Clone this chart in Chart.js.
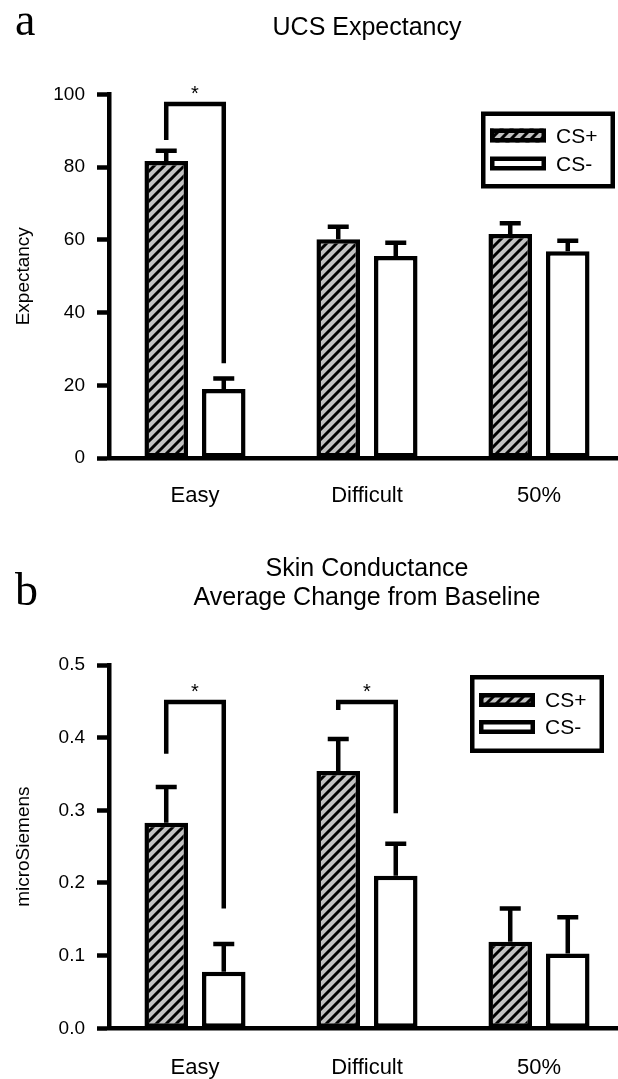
<!DOCTYPE html>
<html>
<head>
<meta charset="utf-8">
<title>UCS Expectancy / Skin Conductance</title>
<script src="https://cdn.jsdelivr.net/npm/chart.js@4.4.1/dist/chart.umd.min.js"></script>
<style>
  html, body { margin: 0; padding: 0; background: #fff; overflow: hidden; }
  #wrap { position: relative; width: 618px; height: 1079px; overflow: hidden; }
  canvas { position: absolute; left: 0; }
  #chartA { top: 0; }
  #chartB { top: 540px; }
</style>
</head>
<body>
<div id="wrap">
  <canvas id="chartA" width="630" height="540"></canvas>
  <canvas id="chartB" width="630" height="539"></canvas>
</div>
<script>
const categories = ["Easy", "Difficult", "50%"]
const seriesNames = ["CS+", "CS-"]

// panel a - UCS expectancy
const expCSPlus = [81.7, 60.2, 61.6]
const expCSPlusErr = [2.8, 3.4, 3.0]
const expCSMinus = [19.0, 55.6, 56.9]
const expCSMinusErr = [2.9, 3.6, 2.9]
const expTicks = [0, 20, 40, 60, 80, 100]
const expTickLabels = ["0", "20", "40", "60", "80", "100"]
// [category index, bracket top, left leg end, right leg end]
const expBrackets = [[0, 97.4, 87.5, 26.1]]

// panel b - skin conductance
const scrCSPlus = [0.283, 0.354, 0.119]
const scrCSPlusErr = [0.049, 0.044, 0.046]
const scrCSMinus = [0.078, 0.210, 0.103]
const scrCSMinusErr = [0.038, 0.044, 0.050]
const scrTicks = [0, 0.1, 0.2, 0.3, 0.4, 0.5]
const scrTickLabels = ["0.0", "0.1", "0.2", "0.3", "0.4", "0.5"]
const scrBrackets = [[0, 0.449, 0.378, 0.165], [1, 0.449, 0.438, 0.296]]

const SANS = "'Liberation Sans', Arial, sans-serif"
const SERIF = "'Liberation Serif', 'Times New Roman', serif"
const LINE = 4.5

Chart.defaults.font.family = SANS
Chart.defaults.color = "#000"

function hatchPattern() {
  const s = 10
  const tile = document.createElement("canvas")
  tile.width = s
  tile.height = s
  const t = tile.getContext("2d")
  t.fillStyle = "#c2c2c2"
  t.fillRect(0, 0, s, s)
  t.strokeStyle = "#000"
  t.lineWidth = 3
  t.beginPath()
  t.moveTo(-s, s); t.lineTo(s, -s)
  t.moveTo(-s, 2 * s); t.lineTo(2 * s, -s)
  t.moveTo(0, 2 * s); t.lineTo(2 * s, 0)
  t.stroke()
  return t.createPattern(tile, "repeat")
}
const hatch = hatchPattern()

// error bars, significance brackets, boxed legend, panel letter
const extras = {
  id: "extras",
  afterDatasetsDraw(chart, args, opts) {
    const ctx = chart.ctx
    const y = chart.scales.y
    ctx.save()
    ctx.strokeStyle = "#000"
    ctx.fillStyle = "#000"
    ctx.lineWidth = LINE
    ctx.lineCap = "butt"
    ctx.lineJoin = "miter"

    chart.data.datasets.forEach((ds, di) => {
      chart.getDatasetMeta(di).data.forEach((bar, i) => {
        const top = y.getPixelForValue(ds.data[i] + ds.errors[i])
        ctx.beginPath()
        ctx.moveTo(bar.x, bar.y)
        ctx.lineTo(bar.x, top)
        ctx.moveTo(bar.x - opts.capWidth / 2, top)
        ctx.lineTo(bar.x + opts.capWidth / 2, top)
        ctx.stroke()
      })
    })

    ctx.font = "20px " + SANS
    ctx.textAlign = "center"
    ctx.textBaseline = "alphabetic"
    opts.brackets.forEach(([i, topV, leftV, rightV]) => {
      const x1 = chart.getDatasetMeta(0).data[i].x
      const x2 = chart.getDatasetMeta(1).data[i].x
      const yt = y.getPixelForValue(topV)
      ctx.beginPath()
      ctx.moveTo(x1, y.getPixelForValue(leftV))
      ctx.lineTo(x1, yt)
      ctx.lineTo(x2, yt)
      ctx.lineTo(x2, y.getPixelForValue(rightV))
      ctx.stroke()
      ctx.fillText("*", (x1 + x2) / 2, yt - 4)
    })
    ctx.restore()
  },
  afterDraw(chart, args, opts) {
    const ctx = chart.ctx
    const lg = opts.legend
    ctx.save()
    ctx.strokeStyle = "#000"
    ctx.lineWidth = LINE
    ctx.fillStyle = "#fff"
    ctx.fillRect(lg.x, lg.y, lg.w, lg.h)
    ctx.strokeRect(lg.x + LINE / 2, lg.y + LINE / 2, lg.w - LINE, lg.h - LINE)

    chart.data.datasets.forEach((ds, di) => {
      const sy = lg.y + lg.rows[di]
      const sx = lg.x + 9
      ctx.fillStyle = ds.backgroundColor
      ctx.fillRect(sx, sy, 56, 14)
      ctx.strokeRect(sx + LINE / 2, sy + LINE / 2, 56 - LINE, 14 - LINE)
      ctx.fillStyle = "#000"
      ctx.font = "21px " + SANS
      ctx.textAlign = "left"
      ctx.textBaseline = "alphabetic"
      ctx.fillText(ds.label, lg.x + 75, sy + 14)
    })

    ctx.font = "46px " + SERIF
    ctx.textAlign = "left"
    ctx.fillText(opts.letter, 15, opts.letterY)
    ctx.restore()
  }
}

function makeChart(id, cfg) {
  const canvas = document.getElementById(id)
  const H = canvas.height
  return new Chart(canvas, {
    type: "bar",
    data: {
      labels: categories,
      datasets: [
        {
          label: seriesNames[0],
          data: cfg.plus,
          errors: cfg.plusErr,
          backgroundColor: hatch,
          borderColor: "#000",
          borderWidth: LINE,
          borderSkipped: false,
          categoryPercentage: 0.669,
          barPercentage: 0.757
        },
        {
          label: seriesNames[1],
          data: cfg.minus,
          errors: cfg.minusErr,
          backgroundColor: "#fff",
          borderColor: "#000",
          borderWidth: LINE,
          borderSkipped: false,
          categoryPercentage: 0.669,
          barPercentage: 0.757
        }
      ]
    },
    options: {
      responsive: false,
      devicePixelRatio: 1,
      animation: false,
      events: [],
      layout: { padding: { left: 0, right: 5, top: 0, bottom: 0 } },
      plugins: {
        legend: { display: false },
        tooltip: { enabled: false },
        title: {
          display: true,
          text: cfg.title,
          fullSize: false,
          color: "#000",
          font: { size: 25, weight: "normal", lineHeight: 1.16 },
          padding: cfg.titlePadding
        },
        extras: {
          capWidth: 21,
          brackets: cfg.brackets,
          legend: cfg.legend,
          letter: cfg.letter,
          letterY: cfg.letterY
        }
      },
      scales: {
        x: {
          grid: { display: false, drawTicks: false },
          border: { display: true, color: "#000", width: LINE },
          ticks: { color: "#000", padding: cfg.xPad, font: { size: 22 } },
          afterFit: (scale) => { scale.height = H - cfg.bottom }
        },
        y: {
          min: cfg.ticks[0],
          max: cfg.ticks[cfg.ticks.length - 1],
          afterBuildTicks: (scale) => { scale.ticks = cfg.ticks.map(v => ({ value: v })) },
          afterFit: (scale) => { scale.width = 109 },
          grid: {
            display: true,
            drawOnChartArea: false,
            drawTicks: true,
            tickLength: 12,
            tickWidth: LINE,
            tickColor: "#000"
          },
          border: { display: true, color: "#000", width: LINE },
          ticks: {
            color: "#000",
            padding: 12,
            font: { size: 19 },
            callback: (v, i) => cfg.tickLabels[i]
          },
          title: {
            display: true,
            text: cfg.yTitle,
            color: "#000",
            font: { size: 19, lineHeight: 1.2 },
            padding: { top: 12, bottom: 0 }
          }
        }
      }
    },
    plugins: [extras]
  })
}

makeChart("chartA", {
  plus: expCSPlus,
  plusErr: expCSPlusErr,
  minus: expCSMinus,
  minusErr: expCSMinusErr,
  ticks: expTicks,
  tickLabels: expTickLabels,
  brackets: expBrackets,
  title: "UCS Expectancy",
  titlePadding: { top: 14.1, bottom: 51.4 },
  yTitle: "Expectancy",
  bottom: 458,
  xPad: 25.2,
  letter: "a",
  letterY: 35,
  legend: { x: 481, y: 111.5, w: 134, h: 77, rows: [17, 45] }
})

makeChart("chartB", {
  plus: scrCSPlus,
  plusErr: scrCSPlusErr,
  minus: scrCSMinus,
  minusErr: scrCSMinusErr,
  ticks: scrTicks,
  tickLabels: scrTickLabels,
  brackets: scrBrackets,
  title: ["Skin Conductance", "Average Change from Baseline"],
  titlePadding: { top: 14.3, bottom: 52.7 },
  yTitle: "microSiemens",
  bottom: 488.3,
  xPad: 26.4,
  letter: "b",
  letterY: 65,
  legend: { x: 470, y: 135, w: 134, h: 78, rows: [18, 45] }
})
</script>
</body>
</html>
